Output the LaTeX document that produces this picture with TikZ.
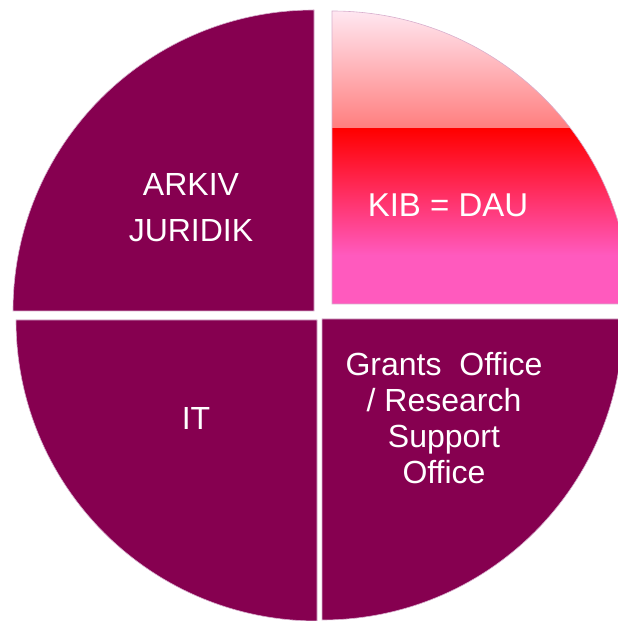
\documentclass[tikz,border=0pt]{standalone}
\usepackage{fontspec}
\setmainfont{Liberation Sans}
\definecolor{plum}{RGB}{134,0,80}
\definecolor{rim}{RGB}{215,175,205}
\definecolor{blush}{RGB}{255,232,242}
\definecolor{salmon}{RGB}{255,125,125}
\definecolor{hotpink}{RGB}{255,90,190}
\begin{document}
\begin{tikzpicture}
[
x=1pt,y=1pt,
slice/.style={fill=plum,draw=rim,line width=.6pt},
every node/.style={text=white,align=center,font=\fontsize{32}{36}\selectfont}
]
\useasboundingbox (0,0) rectangle (618,621);

% the three dark quarters
\foreach \cx/\cy/\sa in {314/310/90, 317/301/180, 322/302/270} {
  \draw[slice] (\cx,\cy) -- ++(\sa:301) arc[start angle=\sa, delta angle=90, radius=301] -- cycle;
}

% the pulled-out quarter with its gradient
\def\kibpath{(332,317) -- ++(0:298) arc[start angle=0, end angle=90, x radius=298, y radius=293] -- cycle}
\begin{scope}
  \clip \kibpath;
  \shade[top color=blush,bottom color=salmon] (332,611) rectangle (640,492);
  \shade[top color=red,bottom color=hotpink] (332,492) rectangle (640,366);
  \fill[hotpink] (332,366) rectangle (640,316);
\end{scope}
\draw[rim,line width=.6pt] \kibpath;

\node (arkiv) at (191,413) {ARKIV\\[10pt]JURIDIK};
\node (it) at (196,203) {IT};
\node[font=\fontsize{33}{36}\selectfont] (kib) at (448,416) {KIB = DAU};
\node (grants) at (444,203) {Grants\ \ Office\\/ Research\\Support\\Office};

\end{tikzpicture}
\end{document}
